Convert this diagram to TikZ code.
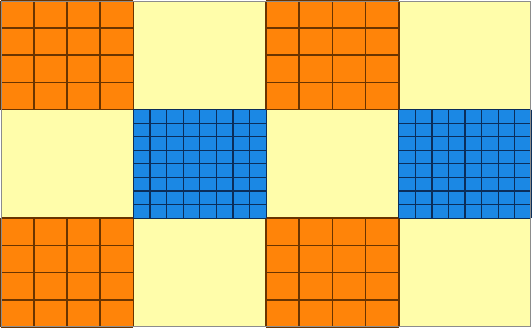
\documentclass[tikz,border=0pt]{standalone}
\usepackage{tikz}
\definecolor{tileorange}{HTML}{FF8409}
\definecolor{tileyellow}{HTML}{FFFDAA}
\definecolor{tileblue}{HTML}{1B88E4}
\definecolor{orangeline}{HTML}{6A3400}
\definecolor{blueline}{HTML}{0B2E5A}

\begin{document}
\begin{tikzpicture}[x=1pt,y=-1pt,
  yellowblk/.style={fill=tileyellow,draw=none},
  orangeblk/.style={fill=tileorange,draw=orangeline,line width=1.6pt},
  blueblk/.style={fill=tileblue,draw=blueline,line width=1.2pt},
  frame/.style={draw=black!45,line width=1pt}]
% yellow background
\fill[yellowblk] (0,0) rectangle (532,327);
% orange 4x4 blocks in the corners
\foreach \bx/\by in {0/0,266/0,0/218,266/218}{
  \fill[tileorange] (\bx,\by) rectangle ++(133,109);
  \foreach \i in {0,...,4}{
    \draw[orangeblk] (\bx+33.25*\i,\by) -- ++(0,109);
    \draw[orangeblk] (\bx,\by+27.25*\i) -- ++(133,0);
  }
}
% blue 8x8 blocks in the middle row
\foreach \bx in {133,399}{
  \fill[tileblue] (\bx,109) rectangle ++(133,109);
  \foreach \i in {0,...,8}{
    \draw[blueblk] (\bx+16.625*\i,109) -- ++(0,109);
    \draw[blueblk] (\bx,109+13.625*\i) -- ++(133,0);
  }
}
\draw[frame] (0.5,0.5) rectangle (531.5,326.5);
\useasboundingbox (0,0) rectangle (532,327);
\end{tikzpicture}
\end{document}
